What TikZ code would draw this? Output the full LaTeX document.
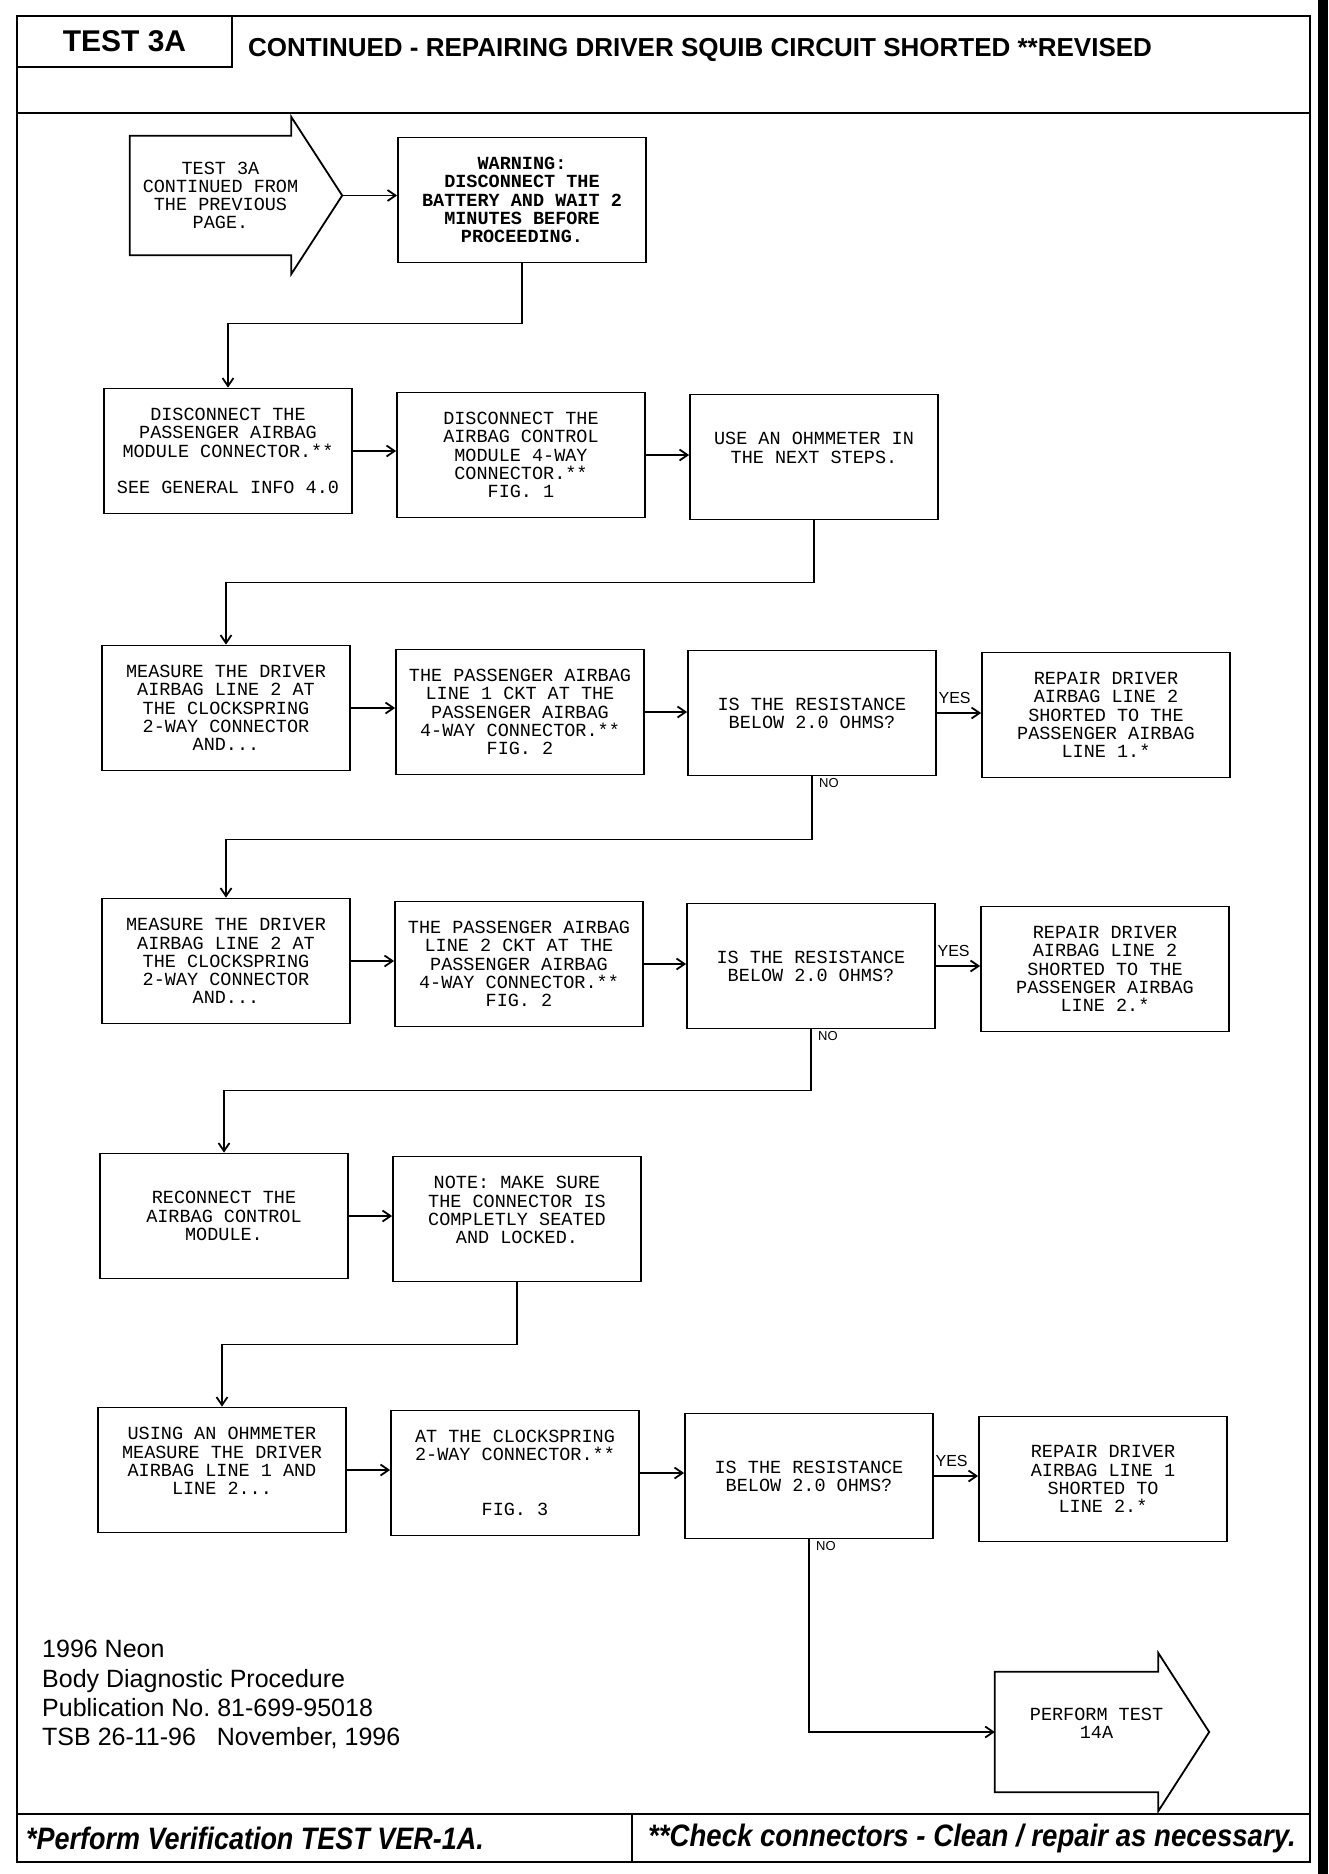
\documentclass[tikz,border=0pt]{standalone}
\usepackage{graphicx}
\usepackage{fontspec}
\setmainfont{Liberation Sans}
\setmonofont{Liberation Mono}
\usetikzlibrary{arrows.meta}

\newcommand{\boxfont}{\ttfamily\fontsize{18.5}{18.2}\selectfont}

\tikzset{
  stepbox/.style={draw, line width=1.8pt, minimum width=248pt, minimum height=125pt,
    align=center, inner sep=2pt, font=\boxfont},
  arrowbody/.style={minimum width=162pt, minimum height=120pt, inner sep=0pt},
  arrowtext/.style={align=center, inner sep=0pt, font=\boxfont},
  arrowline/.style={line width=1.8pt},
  flow/.style={->, line width=1.8pt},
  yeslabel/.style={above=7pt, inner sep=1pt, font=\fontsize{16}{16}\selectfont},
  nolabel/.style={anchor=north west, inner sep=2pt, font=\fontsize{13}{13}\selectfont},
  frameline/.style={line width=2.2pt}
}

\begin{document}
\begin{tikzpicture}[x=1pt, y=-1pt, >={Straight Barb[length=8pt, width=11pt]}]
        \useasboundingbox (0,0) rectangle (1328,1874);

        % Rahmen
        \draw[frameline] (17,16) rectangle (1310,1862);
        \draw[frameline] (17,113) -- (1310,113);
        \draw[frameline] (17,1814) -- (1310,1814);
        \draw[frameline] (632,1814) -- (632,1862);
        \fill (1318,0) rectangle (1328,1874);

        % Kopf
        \node[draw, frameline, minimum width=215pt, minimum height=51pt,
          font=\bfseries\fontsize{30}{30}\selectfont] (testbox) at (124.5,41.5) {TEST 3A};
        \node[anchor=west, inner sep=0pt, font=\bfseries\fontsize{26}{26}\selectfont]
          (title) at (248,50) {CONTINUED - REPAIRING DRIVER SQUIB CIRCUIT SHORTED **REVISED};

        % Start
        \node[arrowbody, minimum width=161pt, minimum height=119pt] (start) at (210.5,195.5) {};
        \draw[arrowline] (start.north west) -- (start.north east) -- ++(0,-19)
          -- ([xshift=51pt]start.east) -- ([yshift=-19pt]start.south east)
          -- (start.south east) -- (start.south west) -- cycle;
        \node[arrowtext] (starttext) at ([xshift=10pt]start.center)
          {TEST 3A\\CONTINUED FROM\\THE PREVIOUS\\PAGE.};
        \coordinate (starttip) at ([xshift=51pt]start.east);

        \node[stepbox, font=\boxfont\bfseries] (warn) at (522,200)
          {WARNING:\\DISCONNECT THE\\BATTERY AND WAIT 2\\MINUTES BEFORE\\PROCEEDING.};

        % Zeile 2
        \node[stepbox] (dpass) at (228,451)
          {DISCONNECT THE\\PASSENGER AIRBAG\\MODULE CONNECTOR.**\\[18.2pt]SEE GENERAL INFO 4.0};
        \node[stepbox] (dacm) at (521,455)
          {DISCONNECT THE\\AIRBAG CONTROL\\MODULE 4-WAY\\CONNECTOR.**\\FIG. 1};
        \node[stepbox] (ohm) at (814,457) {USE AN OHMMETER IN\\THE NEXT STEPS.\\~};

        % Zeile 3
        \node[stepbox] (meas1) at (226,708)
          {MEASURE THE DRIVER\\AIRBAG LINE 2 AT\\THE CLOCKSPRING\\2-WAY CONNECTOR\\AND...};
        \node[stepbox] (pass1) at (520,712)
          {THE PASSENGER AIRBAG\\LINE 1 CKT AT THE\\PASSENGER AIRBAG\\4-WAY CONNECTOR.**\\FIG. 2};
        \node[stepbox] (q1) at (812,713) {IS THE RESISTANCE\\BELOW 2.0 OHMS?};
        \node[stepbox] (rep1) at (1106,715)
          {REPAIR DRIVER\\AIRBAG LINE 2\\SHORTED TO THE\\PASSENGER AIRBAG\\LINE 1.*};

        % Zeile 4
        \node[stepbox] (meas2) at (226,961)
          {MEASURE THE DRIVER\\AIRBAG LINE 2 AT\\THE CLOCKSPRING\\2-WAY CONNECTOR\\AND...};
        \node[stepbox] (pass2) at (519,964)
          {THE PASSENGER AIRBAG\\LINE 2 CKT AT THE\\PASSENGER AIRBAG\\4-WAY CONNECTOR.**\\FIG. 2};
        \node[stepbox] (q2) at (811,966) {IS THE RESISTANCE\\BELOW 2.0 OHMS?};
        \node[stepbox] (rep2) at (1105,969)
          {REPAIR DRIVER\\AIRBAG LINE 2\\SHORTED TO THE\\PASSENGER AIRBAG\\LINE 2.*};

        % Zeile 5
        \node[stepbox] (recon) at (224,1216) {RECONNECT THE\\AIRBAG CONTROL\\MODULE.};
        \node[stepbox] (note) at (517,1219)
          {NOTE: MAKE SURE\\THE CONNECTOR IS\\COMPLETLY SEATED\\AND LOCKED.\\~};

        % Zeile 6
        \node[stepbox] (using) at (222,1470)
          {USING AN OHMMETER\\MEASURE THE DRIVER\\AIRBAG LINE 1 AND\\LINE 2...\\~};
        \node[stepbox] (clock) at (515,1473)
          {AT THE CLOCKSPRING\\2-WAY CONNECTOR.**\\~\\~\\FIG. 3};
        \node[stepbox] (q3) at (809,1476) {IS THE RESISTANCE\\BELOW 2.0 OHMS?};
        \node[stepbox] (rep3) at (1103,1479)
          {REPAIR DRIVER\\AIRBAG LINE 1\\SHORTED TO\\LINE 2.*};

        % Ende
        \node[arrowbody, minimum width=163pt, minimum height=120pt] (perform) at (1076.5,1732) {};
        \draw[arrowline] (perform.north west) -- (perform.north east) -- ++(0,-19)
          -- ([xshift=51pt]perform.east) -- ([yshift=-19pt]perform.south east)
          -- (perform.south east) -- (perform.south west) -- cycle;
        \node[arrowtext] (performtext) at ([xshift=20pt, yshift=9pt]perform.center)
          {PERFORM TEST\\14A};

        % Verbindungen
        \draw[flow] (starttip) -- (starttip -| warn.west);
        \draw[flow] (warn.south) -- ++(0,60) -| (dpass.north);
        \draw[flow] (dpass.east) -- (dpass.east -| dacm.west);
        \draw[flow] (dacm.east) -- (dacm.east -| ohm.west);
        \draw[flow] (ohm.south) -- ++(0,62) -| (meas1.north);

        \draw[flow] (meas1.east) -- (meas1.east -| pass1.west);
        \draw[flow] (pass1.east) -- (pass1.east -| q1.west);
        \draw[flow] (q1.east) -- (q1.east -| rep1.west) node[pos=0.4, yeslabel] (yes1) {YES};
        \draw[flow] (q1.south) -- ++(0,63) -| (meas2.north);
        \node[nolabel] (no1) at ([xshift=5pt]q1.south) {NO};

        \draw[flow] (meas2.east) -- (meas2.east -| pass2.west);
        \draw[flow] (pass2.east) -- (pass2.east -| q2.west);
        \draw[flow] (q2.east) -- (q2.east -| rep2.west) node[pos=0.4, yeslabel] (yes2) {YES};
        \draw[flow] (q2.south) -- ++(0,61) -| (recon.north);
        \node[nolabel] (no2) at ([xshift=5pt]q2.south) {NO};

        \draw[flow] (recon.east) -- (recon.east -| note.west);
        \draw[flow] (note.south) -- ++(0,62) -| (using.north);

        \draw[flow] (using.east) -- (using.east -| clock.west);
        \draw[flow] (clock.east) -- (clock.east -| q3.west);
        \draw[flow] (q3.east) -- (q3.east -| rep3.west) node[pos=0.4, yeslabel] (yes3) {YES};
        \draw[flow] (q3.south) |- (perform.west);
        \node[nolabel] (no3) at ([xshift=5pt]q3.south) {NO};

        % Angaben
        \node[anchor=north west, align=left, inner sep=0pt, font=\fontsize{25}{29.4}\selectfont]
          (pubinfo) at (42,1640)
          {1996 Neon\\Body Diagnostic Procedure\\Publication No.\ 81-699-95018\\TSB 26-11-96\ \ \ November, 1996};

        % Fusszeile
        \node[anchor=west, inner sep=0pt, font=\bfseries\itshape\fontsize{31}{31}\selectfont]
          (verify) at (26,1838) {\scalebox{0.87}[1]{*Perform Verification TEST VER-1A.}};
        \node[anchor=west, inner sep=0pt, font=\bfseries\itshape\fontsize{31}{31}\selectfont]
          (check) at (648,1838) {\scalebox{0.89}[1]{**Check connectors - Clean / repair as necessary.}};

    \end{tikzpicture}
\end{document}
